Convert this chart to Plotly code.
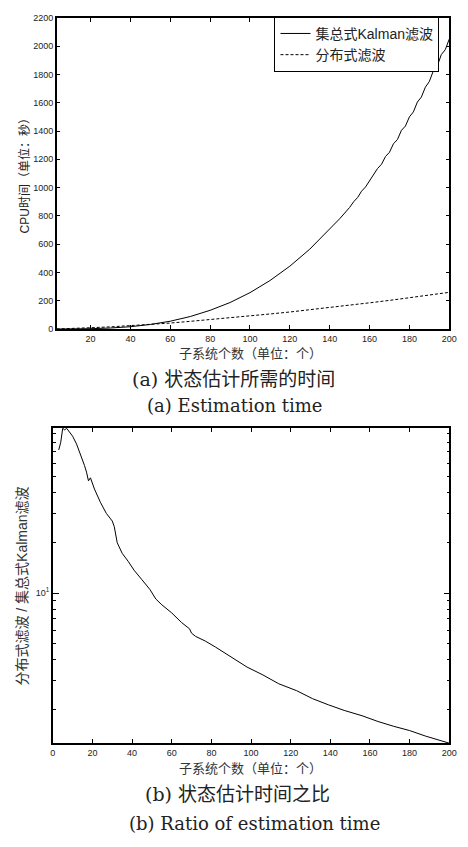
import plotly.graph_objects as go

# ---- data ----
x_central = [3, 10, 20, 30, 40, 50, 60, 70, 80, 90, 100, 110, 120, 130, 140, 145, 150, 152, 154, 156, 158, 160,
             162, 164, 166, 168, 170, 172, 174, 176, 178, 180, 182, 184, 186, 188, 190, 192, 194, 196, 198, 200]
central = [0.5, 1, 3, 8, 17, 33, 56, 89, 133, 188, 258, 343, 445, 565, 705, 780, 860, 900, 930, 975, 1005, 1050,
           1085, 1135, 1165, 1220, 1250, 1310, 1340, 1405, 1435, 1500, 1535, 1605, 1640, 1710, 1750, 1825, 1860, 1940, 1975, 2050]

x_dist = [3, 10, 20, 30, 40, 50, 60, 70, 80, 90, 100, 110, 120, 130, 140, 150, 160, 170, 180, 190, 200]
dist = [1, 3, 10, 16, 24, 33, 43, 55, 67, 80, 93, 107, 121, 136, 152, 169, 186, 203, 221, 240, 260]

x_ratio = [3, 4, 5, 6, 7, 8, 9, 10, 12, 14, 16, 17, 18, 19, 21, 24, 27, 30, 31, 32.5, 35, 38, 41, 45, 49, 52,
           55, 60, 65, 69, 70, 72, 77, 82, 90, 98, 106, 114, 123, 131, 139, 147, 156, 164, 172, 180, 188, 193, 200]
ratio = [72, 80, 97, 95, 97, 93, 90, 87, 78, 68, 58, 53, 47, 49, 42, 35, 30, 27, 25, 20, 17.3, 15.5, 13.7, 12.0,
         10.5, 9.2, 8.5, 7.6, 6.65, 6.1, 5.75, 5.5, 5.15, 4.75, 4.12, 3.6, 3.23, 2.86, 2.6, 2.33, 2.14, 1.98, 1.84,
         1.70, 1.59, 1.50, 1.39, 1.33, 1.26]

top_xticks = [20, 40, 60, 80, 100, 120, 140, 160, 180, 200]
top_yticks = [0, 200, 400, 600, 800, 1000, 1200, 1400, 1600, 1800, 2000, 2200]
bot_xticks = [0, 20, 40, 60, 80, 100, 120, 140, 160, 180, 200]
bot_major = [10]
bot_minor = [2, 3, 4, 5, 6, 7, 8, 9, 20, 30, 40, 50, 60, 70, 80, 90]

W, H = 468, 847
def px(v):
    return v / W
def py(v):
    return 1 - v / H

SANS = "Liberation Sans, Noto Sans CJK SC"
CJK = "Noto Sans CJK SC"
SERIF = "DejaVu Serif, Noto Sans CJK SC"

fig = go.Figure()
fig.add_trace(go.Scatter(x=x_central, y=central, mode="lines", name="集总式Kalman滤波",
                         line=dict(color="black", width=1), xaxis="x", yaxis="y"))
fig.add_trace(go.Scatter(x=x_dist, y=dist, mode="lines", name="分布式滤波",
                         line=dict(color="black", width=1, dash="3px,2px"), xaxis="x", yaxis="y"))
fig.add_trace(go.Scatter(x=x_ratio, y=ratio, mode="lines", showlegend=False,
                         line=dict(color="black", width=1), xaxis="x2", yaxis="y2"))

axis_common = dict(showline=True, linecolor="black", linewidth=1.5, mirror="ticks", ticks="inside",
                   tickcolor="black", showgrid=False, zeroline=False,
                   tickfont=dict(family=SANS, size=9, color="#222"))

fig.update_layout(
    width=W, height=H, margin=dict(l=0, r=0, t=0, b=0),
    paper_bgcolor="white", plot_bgcolor="white",
    font=dict(family=SANS, color="#222"),
    xaxis=dict(domain=[px(55), px(457)], range=[3, 200], anchor="y", tickvals=top_xticks,
               ticklen=4, ticklabelstandoff=0, **axis_common),
    yaxis=dict(domain=[py(328), py(13)], range=[0, 2200], anchor="x", tickvals=top_yticks,
               ticklen=4, **axis_common),
    xaxis2=dict(domain=[px(51), px(457)], range=[0, 200], anchor="y2", tickvals=bot_xticks,
                ticklen=4, ticklabelstandoff=0, **axis_common),
    yaxis2=dict(domain=[py(747), py(428)], type="log", range=[0.1004, 1.989], anchor="x2",
                tickvals=bot_major, ticktext=["10<sup>1</sup>"], ticklen=6,
                minor=dict(tickvals=bot_minor, ticklen=3, ticks="inside", tickcolor="black", showgrid=False),
                **axis_common),
    legend=dict(x=px(447), xanchor="right", y=py(12), yanchor="top", bgcolor="white",
                bordercolor="black", borderwidth=1, font=dict(family=SANS, size=14, color="#222"),
                itemwidth=30, tracegroupgap=0),
)

ann = [
    dict(text="CPU时间（单位：秒）", x=px(23), y=py(170), textangle=-90, font=dict(family=SANS, size=12)),
    dict(text="子系统个数（单位：个）", x=px(253), y=py(352), font=dict(family=CJK, size=13, color="#333")),
    dict(text="(a) 状态估计所需的时间", x=px(236), y=py(378), font=dict(family=SERIF, size=19)),
    dict(text="(a) Estimation time", x=px(238), y=py(405), font=dict(family=SERIF, size=18)),
    dict(text="分布式滤波 / 集总式Kalman滤波", x=px(20), y=py(588), textangle=-90,
         font=dict(family=SANS, size=14, color="#333")),
    dict(text="子系统个数（单位：个）", x=px(253), y=py(772), font=dict(family=CJK, size=13, color="#333")),
    dict(text="(b) 状态估计时间之比", x=px(240), y=py(798), font=dict(family=SERIF, size=19)),
    dict(text="(b) Ratio of estimation time", x=px(258), y=py(828), font=dict(family=SERIF, size=18)),
]
for a in ann:
    a.update(xref="paper", yref="paper", showarrow=False, xanchor="center", yanchor="middle")
    a["font"].setdefault("color", "#222")
fig.update_layout(annotations=ann)

fig.write_html("out.html")
